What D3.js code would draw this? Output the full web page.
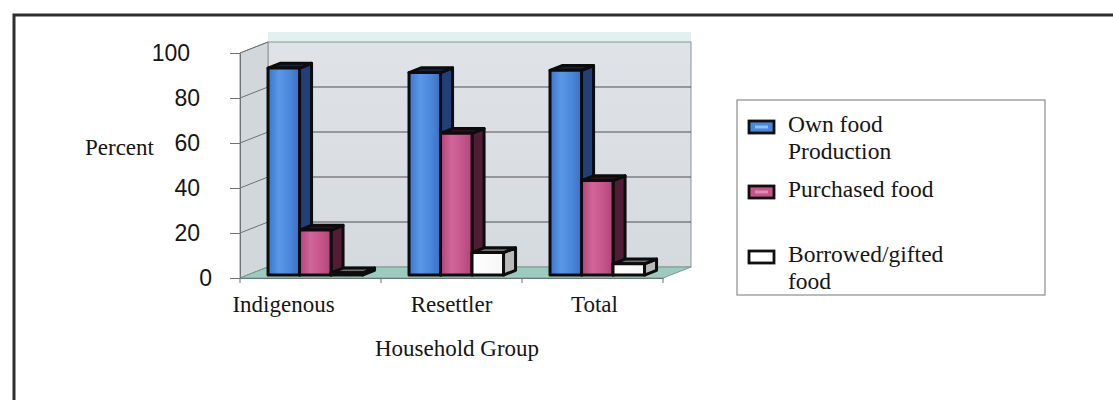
<!DOCTYPE html>
<html>
<head>
<meta charset="utf-8">
<script src="https://cdn.jsdelivr.net/npm/d3@7"></script>
<style>
  html, body { margin: 0; padding: 0; background: #fff; }
  svg { display: block; }
  .serif { font-family: "Liberation Serif", "Times New Roman", serif; fill: #151515; }
  .sans { font-family: "Liberation Sans", Arial, sans-serif; fill: #151515; }
</style>
</head>
<body>
<svg id="chart" width="1113" height="400"></svg>
<script>
// Food sources by household group (percent of households)
const categories = ["Indigenous", "Resettler", "Total"];
const seriesNames = ["Own food Production", "Purchased food", "Borrowed/gifted food"];
const ownFood = [92, 90, 91];
const purchasedFood = [20, 63, 42];
const borrowedFood = [1, 10, 5];
const yTicks = [0, 20, 40, 60, 80, 100];
const legendLines = [["Own food", "Production"], ["Purchased food"], ["Borrowed/gifted", "food"]];

const series = [ownFood, purchasedFood, borrowedFood];

const svg = d3.select("#chart");
const defs = svg.append("defs");

// ---- layout of the 3-D box ----
const front = { left: 240, right: 663, base: 278, top: 53 };
const depth = { dx: 28, dy: -11 };          // offset from front edge to back wall
const barZ0 = 0.27, barZ1 = 0.70;           // bar front / back as fractions of the depth

const x = d3.scaleBand().domain(categories).range([front.left, front.right]);
const y = d3.scaleLinear().domain([0, 100]).range([front.base, front.top]);
const inner = d3.scaleBand().domain(d3.range(series.length))
  .range([0, x.bandwidth()]).paddingInner(0).paddingOuter(0.738).align(0.44);

// ---- gradients ----
function hGrad(id, stops) {
  const g = defs.append("linearGradient").attr("id", id)
    .attr("x1", "0%").attr("x2", "100%").attr("y1", "0%").attr("y2", "0%");
  stops.forEach(([o, c]) => g.append("stop").attr("offset", o).attr("stop-color", c));
}
hGrad("gBlue", [["0%", "#3c74cc"], ["35%", "#5a98e6"], ["70%", "#4a86da"], ["100%", "#3a6fc4"]]);
hGrad("gPink", [["0%", "#b54178"], ["35%", "#d0669a"], ["70%", "#c4558a"], ["100%", "#b2447a"]]);
hGrad("gWhite", [["0%", "#ffffff"], ["100%", "#f6f6f6"]]);
const wallG = defs.append("linearGradient").attr("id", "gWall")
  .attr("x1", "0%").attr("x2", "0%").attr("y1", "0%").attr("y2", "100%");
wallG.append("stop").attr("offset", "0%").attr("stop-color", "#dfe3e7");
wallG.append("stop").attr("offset", "100%").attr("stop-color", "#d5dade");

const fronts = ["url(#gBlue)", "url(#gPink)", "url(#gWhite)"];
const sides = ["#223f78", "#521c36", "#b9b9b9"];
const tops = ["#16233f", "#2e101e", "#707070"];

// ---- outer frame ----
svg.append("path")
  .attr("d", "M14,400 L14,15 L1113,15")
  .attr("fill", "none").attr("stroke", "#2e2e2e").attr("stroke-width", 3);

// ---- walls and floor ----
const yB = v => y(v) + depth.dy;
const bx0 = front.left + depth.dx, bx1 = front.right + depth.dx;

// pale band above the back wall
svg.append("rect").attr("x", bx0).attr("y", yB(100) - 10)
  .attr("width", bx1 - bx0).attr("height", 10).attr("fill", "#e2f0f0");

// back wall
svg.append("rect").attr("x", bx0).attr("y", yB(100))
  .attr("width", bx1 - bx0).attr("height", yB(0) - yB(100))
  .attr("fill", "url(#gWall)").attr("stroke", "#8a9696").attr("stroke-width", 1);

// side wall
svg.append("path")
  .attr("d", `M${front.left},${y(0)} L${front.left},${y(100)} L${bx0},${yB(100)} L${bx0},${yB(0)} Z`)
  .attr("fill", "#d2d7dc").attr("stroke", "#8a9696").attr("stroke-width", 1);

// gridlines on back wall and side wall
const grid = svg.append("g").attr("stroke", "#4c4f52").attr("stroke-width", 1).attr("fill", "none");
yTicks.filter(t => t > 0 && t < 100).forEach(t => {
  grid.append("line").attr("x1", bx0).attr("x2", bx1).attr("y1", yB(t)).attr("y2", yB(t));
});
yTicks.forEach(t => {
  grid.append("line").attr("x1", front.left).attr("y1", y(t)).attr("x2", bx0).attr("y2", yB(t))
    .attr("stroke", "#6c7276");
});

// floor
svg.append("path")
  .attr("d", `M${front.left},${y(0)} L${front.right},${y(0)} L${bx1},${yB(0)} L${bx0},${yB(0)} Z`)
  .attr("fill", "#9ccbbd").attr("stroke", "#7d9a94").attr("stroke-width", 1);

// ---- axes ----
const yAxis = svg.append("g").attr("transform", `translate(${front.left},0)`)
  .call(d3.axisLeft(y).tickValues(yTicks).tickSize(10).tickPadding(30).tickFormat(d3.format("d")));
yAxis.select(".domain").attr("stroke", "#6c7276");
yAxis.selectAll(".tick line").attr("stroke", "#6c7276");
yAxis.selectAll(".tick text")
  .attr("class", "sans").attr("font-size", 23).attr("fill", "#151515")
  .attr("dx", d => d === 100 ? -10 : d === 0 ? 12 : 0);

const xAxis = svg.append("g").attr("transform", `translate(0,${front.base})`)
  .call(d3.axisBottom(x).tickSize(0).tickFormat(""));
xAxis.select(".domain").attr("stroke", "#6c7276");
xAxis.selectAll(".tick").remove();
[...categories.map(c => x(c) + x.bandwidth()), front.left].forEach(px => {
  xAxis.append("line").attr("x1", px).attr("x2", px).attr("y1", 0).attr("y2", 5)
    .attr("stroke", "#6c7276");
});

// category labels
const labelNudge = { Indigenous: -27, Resettler: 0, Total: 2 };
svg.append("g").selectAll("text").data(categories).join("text")
  .attr("class", "serif").attr("font-size", 23).attr("text-anchor", "middle")
  .attr("x", d => x(d) + x.bandwidth() / 2 + labelNudge[d])
  .attr("y", 312)
  .text(d => d);

svg.append("text").attr("class", "serif").attr("font-size", 23)
  .attr("text-anchor", "middle").attr("x", 457).attr("y", 356).text("Household Group");
svg.append("text").attr("class", "serif").attr("font-size", 23)
  .attr("x", 85).attr("y", 155).text("Percent");

// ---- bars (drawn left to right so each front face hides the previous side face) ----
const bdx0 = depth.dx * barZ0, bdy0 = depth.dy * barZ0;
const ddx = depth.dx * (barZ1 - barZ0), ddy = depth.dy * (barZ1 - barZ0);
const bars = svg.append("g")
  .attr("stroke", "#0c0c0c").attr("stroke-width", 3).attr("stroke-linejoin", "round");

categories.forEach((cat, ci) => {
  series.forEach((vals, si) => {
    const v = vals[ci];
    const x0 = x(cat) + inner(si) + bdx0;
    const x1 = x0 + inner.bandwidth();
    const yT = y(v) + bdy0;
    const yBase = y(0) + bdy0;
    const g = bars.append("g");
    g.append("path")
      .attr("d", `M${x1},${yBase} L${x1},${yT} L${x1 + ddx},${yT + ddy} L${x1 + ddx},${yBase + ddy} Z`)
      .attr("fill", sides[si]);
    g.append("path")
      .attr("d", `M${x0},${yT} L${x1},${yT} L${x1 + ddx},${yT + ddy} L${x0 + ddx},${yT + ddy} Z`)
      .attr("fill", tops[si]);
    g.append("rect").attr("x", x0).attr("y", yT)
      .attr("width", x1 - x0).attr("height", yBase - yT)
      .attr("fill", fronts[si]);
  });
});

// ---- legend ----
const legend = svg.append("g");
legend.append("rect").attr("x", 737).attr("y", 100).attr("width", 308).attr("height", 195)
  .attr("fill", "#fff").attr("stroke", "#8c8c8c").attr("stroke-width", 1.2);
const legendFill = ["#4a86da", "#c4558a", "#ffffff"];
const legendMid = ["#8fc0f2", "#e08ab4", "#ffffff"];
seriesNames.forEach((name, i) => {
  const base = 132 + i * 65;
  const row = legend.append("g").attr("aria-label", name);
  row.append("rect").attr("x", 749).attr("y", base - 11).attr("width", 25).attr("height", 12)
    .attr("fill", legendFill[i]).attr("stroke", "#101010").attr("stroke-width", 2.8);
  row.append("rect").attr("x", 755).attr("y", base - 6.5).attr("width", 13).attr("height", 3)
    .attr("fill", legendMid[i]);
  legendLines[i].forEach((line, li) => {
    row.append("text").attr("class", "serif").attr("font-size", 23.5)
      .attr("x", 788).attr("y", base + li * 27).text(line);
  });
});
</script>
</body>
</html>
